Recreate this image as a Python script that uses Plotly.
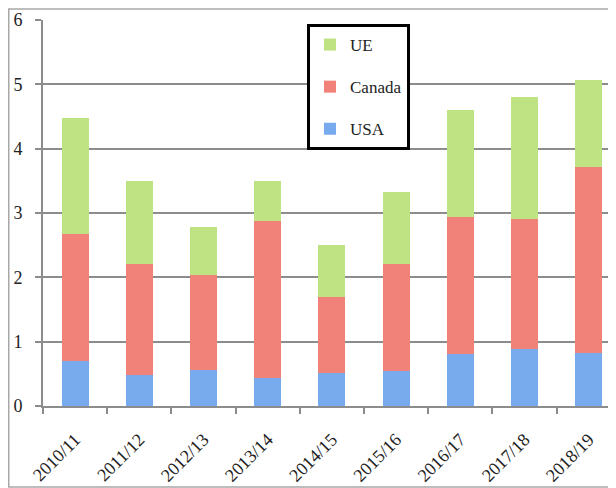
import plotly.graph_objects as go

categories = ["2010/11", "2011/12", "2012/13", "2013/14", "2014/15",
              "2015/16", "2016/17", "2017/18", "2018/19"]
usa = [0.70, 0.48, 0.56, 0.44, 0.51, 0.54, 0.81, 0.89, 0.82]
canada = [1.97, 1.73, 1.48, 2.44, 1.19, 1.67, 2.13, 2.02, 2.90]
ue = [1.81, 1.29, 0.74, 0.62, 0.80, 1.12, 1.66, 1.90, 1.35]
y_ticks = [0, 1, 2, 3, 4, 5, 6]

FONT = "Liberation Serif"
GRID = "#8c8c8c"

# plot-area geometry (figure px)
L, T, B = 35, 12, 90
PW, PH = 573, 386

fig = go.Figure()
fig.add_trace(go.Bar(name="USA", x=categories, y=usa, legendrank=3, legendgroup="usa",
                     marker=dict(color="#78aaee", line=dict(width=0))))
fig.add_trace(go.Bar(name="Canada", x=categories, y=canada, legendrank=2, legendgroup="canada",
                     marker=dict(color="#f0827a", line=dict(width=0))))
fig.add_trace(go.Bar(name="UE", x=categories, y=ue, legendrank=1, legendgroup="ue",
                     marker=dict(color="#bfe382", line=dict(width=0))))

fig.update_layout(
    barmode="stack",
    bargap=0.58,
    width=616, height=488,
    margin=dict(l=L, r=8, t=T, b=B, autoexpand=False),
    paper_bgcolor="white", plot_bgcolor="white",
    font=dict(family=FONT, size=17, color="#222222"),
    showlegend=True,
    legend=dict(
        x=(299 - L) / PW, y=1 - (16 - T) / PH,
        xanchor="left", yanchor="top",
        traceorder="grouped", tracegroupgap=17,
        bordercolor="black", borderwidth=3, bgcolor="white",
        font=dict(family=FONT, size=17, color="#222222"),
        itemwidth=30,
    ),
    xaxis=dict(
        range=[-0.5, 8.425],
        tickangle=-45,
        tickson="boundaries",
        ticks="outside", ticklen=6, tickwidth=2, tickcolor=GRID,
        showline=True, linecolor=GRID, linewidth=2,
        showgrid=False,
        ticklabelstandoff=14,
        tickfont=dict(family=FONT, size=18, color="#222222"),
    ),
    yaxis=dict(
        range=[0, 6],
        tickvals=y_ticks,
        ticks="outside", ticklen=6, tickwidth=2, tickcolor=GRID,
        showline=True, linecolor=GRID, linewidth=2,
        showgrid=True, gridcolor=GRID, gridwidth=2,
        zeroline=False,
        ticklabelstandoff=9,
        tickfont=dict(family=FONT, size=18, color="#222222"),
    ),
    shapes=[dict(type="rect", xref="paper", yref="paper",
                 x0=(0.75 - L) / PW, x1=1.2,
                 y0=-(479 - (T + PH)) / PH, y1=1 + (T - 1) / PH,
                 line=dict(color="#a8a8a8", width=1.5), layer="below")],
)

fig.write_html("out.html")
